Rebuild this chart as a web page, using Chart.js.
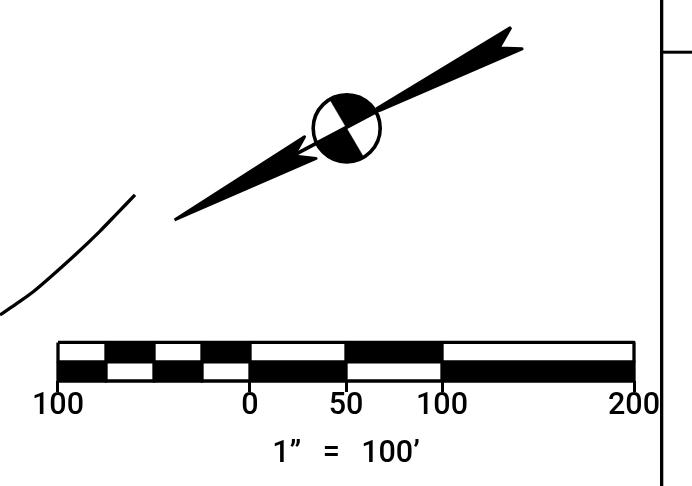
<!DOCTYPE html>
<html>
<head>
<meta charset="utf-8">
<title>Scale bar</title>
<script src="https://cdn.jsdelivr.net/npm/chart.js@4"></script>
<style>
  html, body { margin: 0; padding: 0; background: #fff; }
  canvas { display: block; }
</style>
</head>
<body>
<canvas id="myChart" width="692" height="486"></canvas>
<script>
// everything is in feet on the sheet, 1" = 100'
const scaleTicks = [-100, 0, 50, 100, 200];
const scaleTitle = '1”\u2009  =  \u2009100’';

// scale bar cells, [from, to] in feet
const topWhite = [[-100, -75], [-50, -25], [0, 50], [100, 200]];
const topBlack = [[-75, -50], [-25, 0], [50, 100]];
const bottomWhite = [[-75, -50], [-25, 0], [50, 100]];
const bottomBlack = [[-100, -75], [-50, -25], [0, 50], [100, 200]];
const topRow = [20.1, 10];
const bottomRow = [10, 0];

// north arrow
const arrowHead = [[135.9, 184.2], [129.7, 173.5], [141.7, 173.0], [67.7, 141.0], [66.1, 141.9]];
const arrowTail = [[-39.3, 83.9], [28.4, 127.2], [22.8, 117.2], [34.4, 115.9]];
const arrowShaft = [[22.4, 117.4], [67.2, 141.1]];
const markCenter = [[50.36, 131.6]];
const markTop = [[50.36, 131.6], [41.5, 146.7], [45.8, 148.5], [50.4, 149.1], [54.9, 148.5], [59.1, 146.7], [62.7, 144.0], [65.6, 140.1]];
const markBottom = [[50.36, 131.6], [59.2, 116.6], [54.9, 114.7], [50.4, 114.2], [45.8, 114.7], [41.6, 116.5], [38.0, 119.3], [35.1, 123.2]];

// site linework
const siteCurve = [[-130.2, 34.4], [-121.4, 40.4], [-112.9, 46.5], [-104.2, 53.9], [-90.3, 66.4], [-78.1, 78.1], [-69.3, 87.2], [-59.9, 96.9]];
const borderVertical = [[214.4, 198.44], [214.4, -54.69]];
const borderHorizontal = [[214.4, 171.25], [230.21, 171.25]];

const pts = (list) => list.map(([x, y]) => ({x, y}));
const closed = (list) => pts(list.concat([list[0]]));
const cell = ([a, b], [hi, lo]) => [[a, hi], [b, hi], [b, lo], [a, lo]];

function line(list, width) {
    return {data: pts(list), showLine: true, pointRadius: 0, borderColor: '#000', borderWidth: width,
        fill: false, tension: 0.3, borderCapStyle: 'butt'};
}
function shape(list, color, width) {
    return {data: closed(list), showLine: true, pointRadius: 0, borderColor: '#000', borderWidth: width,
        backgroundColor: color, fill: 'shape', tension: 0, borderJoinStyle: 'round'};
}

// first dataset ends up on top
const datasets = [
    {data: pts(markCenter), pointRadius: 33.5, pointBorderWidth: 3.6, pointBorderColor: '#000',
        pointBackgroundColor: 'rgba(0,0,0,0)', showLine: false},
    line(arrowShaft, 3.5),
    shape(markTop, '#000', 0.5),
    shape(markBottom, '#000', 0.5),
    shape(arrowHead, '#000', 3),
    shape(arrowTail, '#000', 3),
    line(siteCurve, 3.3),
    line(borderVertical, 3.3),
    line(borderHorizontal, 3)
];
topWhite.forEach((c) => datasets.push(shape(cell(c, topRow), '#fff', 3.3)));
bottomWhite.forEach((c) => datasets.push(shape(cell(c, bottomRow), '#fff', 3.3)));
topBlack.forEach((c) => datasets.push(shape(cell(c, topRow), '#000', 3.3)));
bottomBlack.forEach((c) => datasets.push(shape(cell(c, bottomRow), '#000', 3.3)));

new Chart(document.getElementById('myChart'), {
    type: 'scatter',
    data: {datasets},
    options: {
        responsive: false,
        animation: false,
        events: [],
        layout: {padding: 0, autoPadding: false},
        plugins: {legend: {display: false}, tooltip: {enabled: false}},
        scales: {
            x: {
                type: 'linear',
                min: -130.208,
                max: 230.208,
                position: {y: 0},
                afterBuildTicks: (axis) => { axis.ticks = scaleTicks.map((value) => ({value})); },
                ticks: {
                    autoSkip: false,
                    maxRotation: 0,
                    padding: -4,
                    color: '#000',
                    font: {family: 'Roboto', size: 30.5, weight: 500},
                    callback: (v) => String(Math.abs(v))
                },
                grid: {drawOnChartArea: false, color: '#000', lineWidth: 3, tickLength: 11},
                border: {display: false},
                title: {
                    display: true,
                    text: scaleTitle,
                    color: '#000',
                    font: {family: 'Roboto', size: 30.5, weight: 500},
                    padding: {top: 15, bottom: 0}
                }
            },
            y: {
                type: 'linear',
                display: false,
                min: -54.6875,
                max: 198.4375
            }
        }
    }
});
</script>
</body>
</html>
